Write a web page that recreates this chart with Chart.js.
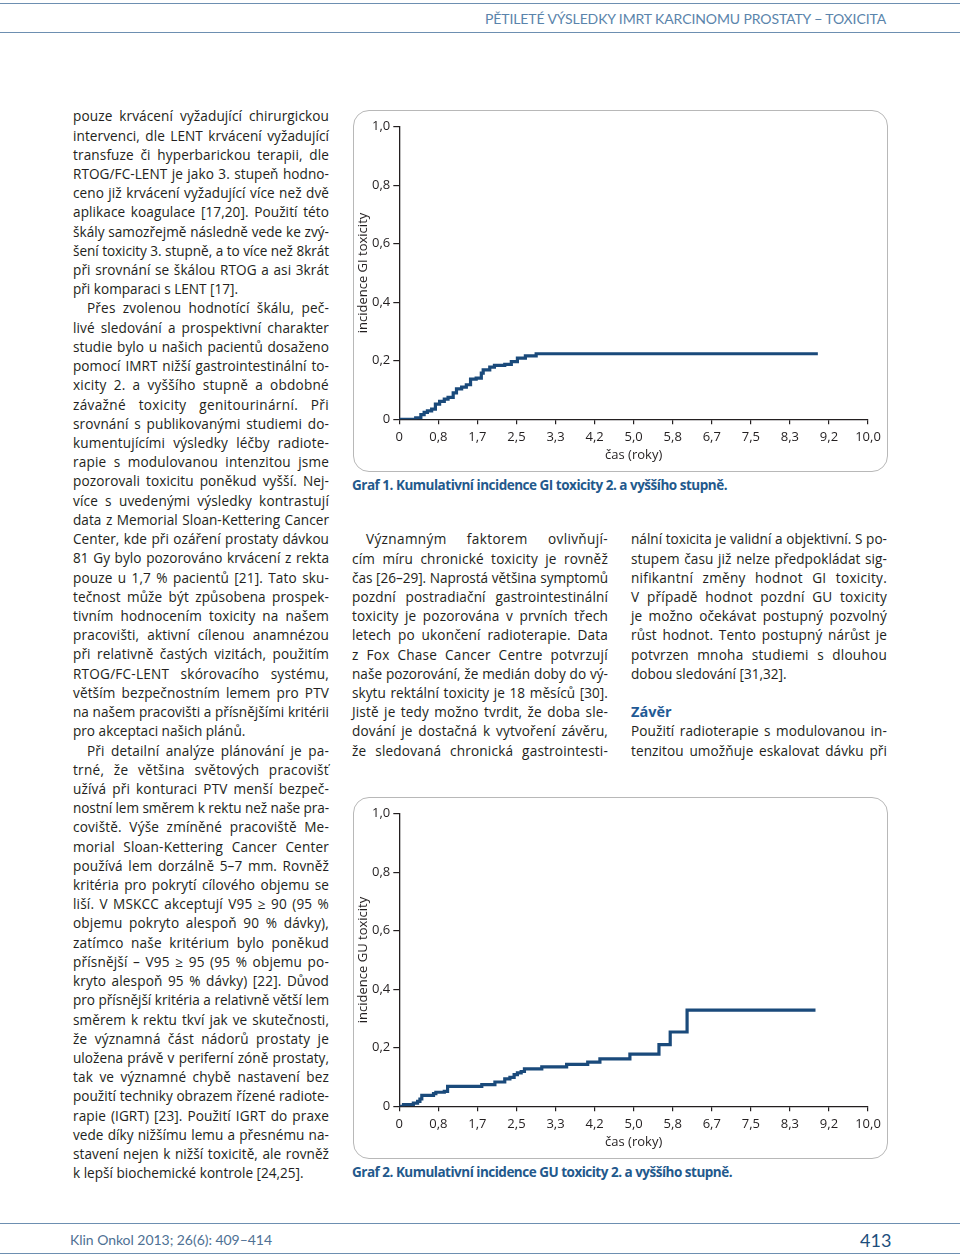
<!DOCTYPE html>
<html lang="cs">
<head>
<meta charset="utf-8">
<script src="https://cdn.jsdelivr.net/npm/chart.js@4.4.1/dist/chart.umd.min.js"></script>
<style>
html,body{margin:0;padding:0;background:#fff;}
body{width:960px;height:1257px;position:relative;overflow:hidden;font-family:"Open Sans",Lato,sans-serif;color:#231f20;}
.hl{position:absolute;left:0;width:960px;height:0;border-top:1.5px solid #6d8fb1;}
.col{position:absolute;width:256px;font-size:13.6px;line-height:19.22px;}
.col div{height:19.22px;box-sizing:border-box;white-space:nowrap;}
.j{text-align:justify;text-align-last:justify;}
.e{text-align:left;}
.i{padding-left:14px;}
.h{font-weight:700;font-size:14.5px;color:#1f5a95;}
.box{position:absolute;left:353px;width:535px;height:362px;box-sizing:border-box;border:1px solid #b8b8b8;border-radius:16px;}
canvas{position:absolute;}
.cap{position:absolute;left:352px;font-weight:700;font-size:13.5px;line-height:19.22px;color:#23598c;white-space:nowrap;}
.meas{position:absolute;left:-2000px;top:0;white-space:nowrap;visibility:hidden;}
</style>
</head>
<body>
<div class="hl" style="top:2.5px"></div>
<div class="hl" style="top:32px"></div>
<div id="hdr" style="position:absolute;top:9px;left:485px;font-family:Lato,sans-serif;font-size:14px;line-height:19.22px;color:#5a84ab;white-space:nowrap;" data-fit="401">PĚTILETÉ VÝSLEDKY IMRT KARCINOMU PROSTATY − TOXICITA</div>

<div class="col" style="left:73px;top:106.3px">
<div class="j">pouze krvácení vyžadující chirurgickou</div>
<div class="j">intervenci, dle LENT krvácení vyžadující</div>
<div class="j">transfuze či hyperbarickou terapii, dle</div>
<div class="j">RTOG/FC-LENT je jako 3. stupeň hodno-</div>
<div class="j">ceno již krvácení vyžadující více než dvě</div>
<div class="j">aplikace koagulace [17,20]. Použití této</div>
<div class="j">škály samozřejmě následně vede ke zvý-</div>
<div class="j">šení toxicity 3. stupně, a to více než 8krát</div>
<div class="j">při srovnání se škálou RTOG a asi 3krát</div>
<div class="e">při komparaci s LENT [17].</div>
<div class="j i">Přes zvolenou hodnotící škálu, peč-</div>
<div class="j">livé sledování a prospektivní charakter</div>
<div class="j">studie bylo u našich pacientů dosaženo</div>
<div class="j">pomocí IMRT nižší gastrointestinální to-</div>
<div class="j">xicity 2. a vyššího stupně a obdobné</div>
<div class="j">závažné toxicity genitourinární. Při</div>
<div class="j">srovnání s publikovanými studiemi do-</div>
<div class="j">kumentujícími výsledky léčby radiote-</div>
<div class="j">rapie s modulovanou intenzitou jsme</div>
<div class="j">pozorovali toxicitu poněkud vyšší. Nej-</div>
<div class="j">více s uvedenými výsledky kontrastují</div>
<div class="j">data z Memorial Sloan-Kettering Cancer</div>
<div class="j">Center, kde při ozáření prostaty dávkou</div>
<div class="j">81 Gy bylo pozorováno krvácení z rekta</div>
<div class="j">pouze u 1,7 % pacientů [21]. Tato sku-</div>
<div class="j">tečnost může být způsobena prospek-</div>
<div class="j">tivním hodnocením toxicity na našem</div>
<div class="j">pracovišti, aktivní cílenou anamnézou</div>
<div class="j">při relativně častých vizitách, použitím</div>
<div class="j">RTOG/FC-LENT skórovacího systému,</div>
<div class="j">větším bezpečnostním lemem pro PTV</div>
<div class="j">na našem pracovišti a přísnějšími kritérii</div>
<div class="e">pro akceptaci našich plánů.</div>
<div class="j i">Při detailní analýze plánování je pa-</div>
<div class="j">trné, že většina světových pracovišť</div>
<div class="j">užívá při konturaci PTV menší bezpeč-</div>
<div class="j">nostní lem směrem k rektu než naše pra-</div>
<div class="j">coviště. Výše zmíněné pracoviště Me-</div>
<div class="j">morial Sloan-Kettering Cancer Center</div>
<div class="j">používá lem dorzálně 5–7 mm. Rovněž</div>
<div class="j">kritéria pro pokrytí cílového objemu se</div>
<div class="j">liší. V MSKCC akceptují V95 ≥ 90 (95 %</div>
<div class="j">objemu pokryto alespoň 90 % dávky),</div>
<div class="j">zatímco naše kritérium bylo poněkud</div>
<div class="j">přísnější – V95 ≥ 95 (95 % objemu po-</div>
<div class="j">kryto alespoň 95 % dávky) [22]. Důvod</div>
<div class="j">pro přísnější kritéria a relativně větší lem</div>
<div class="j">směrem k rektu tkví jak ve skutečnosti,</div>
<div class="j">že významná část nádorů prostaty je</div>
<div class="j">uložena právě v periferní zóně prostaty,</div>
<div class="j">tak ve významné chybě nastavení bez</div>
<div class="j">použití techniky obrazem řízené radiote-</div>
<div class="j">rapie (IGRT) [23]. Použití IGRT do praxe</div>
<div class="j">vede díky nižšímu lemu a přesnému na-</div>
<div class="j">stavení nejen k nižší toxicitě, ale rovněž</div>
<div class="e">k lepší biochemické kontrole [24,25].</div>
</div>

<div class="col" style="left:352px;top:529.3px">
<div class="j i">Významným faktorem ovlivňují-</div>
<div class="j">cím míru chronické toxicity je rovněž</div>
<div class="j">čas [26–29]. Naprostá většina symptomů</div>
<div class="j">pozdní postradiační gastrointestinální</div>
<div class="j">toxicity je pozorována v prvních třech</div>
<div class="j">letech po ukončení radioterapie. Data</div>
<div class="j">z Fox Chase Cancer Centre potvrzují</div>
<div class="j">naše pozorování, že medián doby do vý-</div>
<div class="j">skytu rektální toxicity je 18 měsíců [30].</div>
<div class="j">Jistě je tedy možno tvrdit, že doba sle-</div>
<div class="j">dování je dostačná k vytvoření závěru,</div>
<div class="j">že sledovaná chronická gastrointesti-</div>
</div>

<div class="col" style="left:631px;top:529.3px">
<div class="j">nální toxicita je validní a objektivní. S po-</div>
<div class="j">stupem času již nelze předpokládat sig-</div>
<div class="j">nifikantní změny hodnot GI toxicity.</div>
<div class="j">V případě hodnot pozdní GU toxicity</div>
<div class="j">je možno očekávat postupný pozvolný</div>
<div class="j">růst hodnot. Tento postupný nárůst je</div>
<div class="j">potvrzen mnoha studiemi s dlouhou</div>
<div class="e">dobou sledování [31,32].</div>
<div class="e"></div>
<div class="e h">Závěr</div>
<div class="j">Použití radioterapie s modulovanou in-</div>
<div class="j">tenzitou umožňuje eskalovat dávku při</div>
</div>

<div class="box" style="top:110px"></div>
<canvas id="giChart" width="536" height="362" style="left:352px;top:110px;width:536px;height:362px"></canvas>
<div class="cap" style="top:475.6px" data-fit="375">Graf 1. Kumulativní incidence GI toxicity 2. a vyššího stupně.</div>

<div class="box" style="top:797px"></div>
<canvas id="guChart" width="536" height="362" style="left:352px;top:797px;width:536px;height:362px"></canvas>
<div class="cap" style="top:1162.6px" data-fit="380">Graf 2. Kumulativní incidence GU toxicity 2. a vyššího stupně.</div>

<div class="hl" style="top:1222.5px"></div>
<div class="hl" style="top:1253px"></div>
<div style="position:absolute;left:70px;top:1230px;font-family:Lato,sans-serif;font-size:14px;line-height:19.22px;color:#4f7194;white-space:nowrap;" data-fit="202">Klin Onkol 2013; 26(6): 409–414</div>
<div style="position:absolute;left:860px;top:1227.5px;font-family:Lato,sans-serif;font-size:18px;line-height:24px;color:#1d4e7c;white-space:nowrap;">413</div>

<script>
// ---- chart data ----
const xTickValues = [0, 0.8333, 1.6667, 2.5, 3.3333, 4.1667, 5, 5.8333, 6.6667, 7.5, 8.3333, 9.1667, 10];
const xTickLabels = ['0', '0,8', '1,7', '2,5', '3,3', '4,2', '5,0', '5,8', '6,7', '7,5', '8,3', '9,2', '10,0'];
const yTickValues = [0, 0.2, 0.4, 0.6, 0.8, 1];
const yTickLabels = ['0', '0,2', '0,4', '0,6', '0,8', '1,0'];
const xTitle = 'čas (roky)';

const giTimes = [0, 0.35, 0.46, 0.53, 0.60, 0.69, 0.77, 0.86, 0.96, 1.04, 1.15, 1.22, 1.33, 1.43, 1.52, 1.64, 1.75, 1.79, 1.93, 2.03, 2.25, 2.39, 2.52, 2.69, 2.92, 8.93];
const giIncidence = [0, 0.005, 0.016, 0.024, 0.029, 0.035, 0.052, 0.061, 0.069, 0.075, 0.090, 0.104, 0.110, 0.118, 0.137, 0.141, 0.158, 0.169, 0.178, 0.184, 0.188, 0.197, 0.209, 0.217, 0.224, 0.224];

const guTimes = [0, 0.09, 0.30, 0.39, 0.44, 0.48, 0.73, 0.78, 0.96, 1.03, 1.76, 2.04, 2.25, 2.36, 2.45, 2.52, 2.60, 2.67, 3.04, 3.57, 4.02, 4.28, 4.92, 5.54, 5.78, 6.14, 8.88];
const guIncidence = [0, 0.006, 0.011, 0.017, 0.025, 0.037, 0.043, 0.048, 0.051, 0.068, 0.074, 0.083, 0.094, 0.099, 0.108, 0.114, 0.119, 0.128, 0.135, 0.143, 0.151, 0.162, 0.178, 0.211, 0.254, 0.329, 0.329];

const FONT = '"Open Sans", Lato, sans-serif';
const INK = '#231f20';

function makeChart(id, times, values, yTitle) {
  const pts = times.map((t, i) => ({x: t, y: values[i]}));
  return new Chart(document.getElementById(id), {
    type: 'line',
    data: {datasets: [{
      data: pts, stepped: true, borderColor: '#1a4a7b', borderWidth: 3.2,
      pointRadius: 0, fill: false, tension: 0, borderJoinStyle: 'miter', borderCapStyle: 'butt'
    }]},
    options: {
      responsive: false, animation: false, devicePixelRatio: 1,
      layout: {padding: {left: 3.2, right: 20, top: 16.7, bottom: 9.2}},
      plugins: {legend: {display: false}, tooltip: {enabled: false}},
      scales: {
        x: {
          type: 'linear', min: 0, max: 10,
          afterBuildTicks: s => { s.ticks = xTickValues.map(v => ({value: v})); },
          afterFit: s => { s.height = 43.5; },
          ticks: {autoSkip: false, maxRotation: 0, minRotation: 0, padding: 5, color: INK,
                  font: {family: FONT, size: 13}, callback: (v, i) => xTickLabels[i]},
          grid: {drawOnChartArea: false, drawTicks: true, tickLength: 5, color: INK, lineWidth: 1.2},
          border: {display: true, color: INK, width: 1.3},
          title: {display: true, text: xTitle, padding: 0, color: INK, font: {family: FONT, size: 13}}
        },
        y: {
          type: 'linear', min: 0, max: 1,
          afterBuildTicks: s => { s.ticks = yTickValues.map(v => ({value: v})); },
          afterFit: s => { s.width = 44.1; },
          ticks: {padding: 3, color: INK, font: {family: FONT, size: 13}, callback: (v, i) => yTickLabels[i]},
          grid: {drawOnChartArea: false, drawTicks: true, tickLength: 6, color: INK, lineWidth: 1.2},
          border: {display: true, color: INK, width: 1.3},
          title: {display: true, text: yTitle, padding: 0, color: INK, font: {family: FONT, size: 13}}
        }
      }
    }
  });
}

makeChart('giChart', giTimes, giIncidence, 'incidence GI toxicity');
makeChart('guChart', guTimes, guIncidence, 'incidence GU toxicity');

// ---- text fitting (justification like a typesetter: a little letter spacing, the rest in word gaps) ----
function naturalWidth(el) {
  const cs = getComputedStyle(el);
  const m = document.createElement('span');
  m.className = 'meas';
  m.style.font = cs.font;
  m.style.letterSpacing = '0px';
  m.textContent = el.textContent;
  document.body.appendChild(m);
  const w = m.getBoundingClientRect().width;
  m.remove();
  return w;
}
function fitLines() {
  document.querySelectorAll('.col div').forEach(el => {
    const txt = el.textContent;
    if (!txt) return;
    const cs = getComputedStyle(el);
    const avail = el.clientWidth - parseFloat(cs.paddingLeft) - parseFloat(cs.paddingRight);
    const nat = naturalWidth(el);
    const n = txt.length;
    if (nat > avail - 0.5) {
      el.style.letterSpacing = ((avail - 0.8 - nat) / n) + 'px';
    } else if (el.classList.contains('j')) {
      const slack = avail - nat;
      el.style.letterSpacing = Math.min(0.35, slack * 0.3 / n) + 'px';
    }
  });
  document.querySelectorAll('[data-fit]').forEach(el => {
    const target = parseFloat(el.dataset.fit);
    const nat = naturalWidth(el);
    const n = el.textContent.length;
    el.style.letterSpacing = ((target - nat) / n) + 'px';
  });
  const h = document.getElementById('hdr');
  h.style.left = (886 - h.getBoundingClientRect().width) + 'px';
}
fitLines();
</script>
</body>
</html>
